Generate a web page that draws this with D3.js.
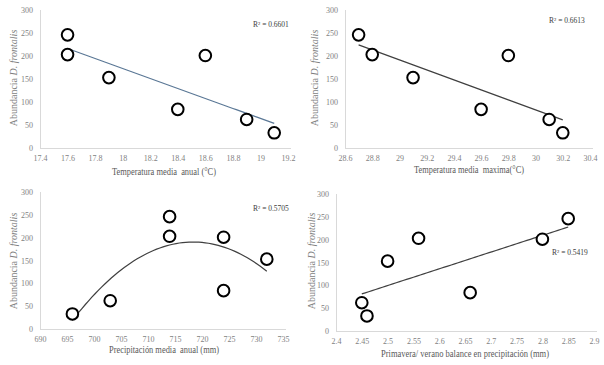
<!DOCTYPE html>
<html><head><meta charset="utf-8">
<script src="https://cdn.jsdelivr.net/npm/d3@7"></script>
<style>
html,body{margin:0;padding:0;background:#fff;}
svg{display:block;}
svg text{font-family:Liberation Serif, Times New Roman, serif; white-space:pre;}
</style>
</head><body>
<svg id="c" width="604" height="365"></svg>
<script>
// Data (per site A..G)
const abundance = [246, 203, 153, 84, 201, 62, 33];
const tempAnual = [17.6, 17.6, 17.9, 18.4, 18.6, 18.9, 19.1];
const tempMax = [28.7, 28.8, 29.1, 29.6, 29.8, 30.1, 30.2];
const precipAnual = [714, 714, 732, 724, 724, 703, 696];
const balancePrecip = [2.85, 2.56, 2.5, 2.66, 2.8, 2.45, 2.46];

const yTicks = [0, 50, 100, 150, 200, 250, 300];
const xTicks1 = [17.4, 17.6, 17.8, 18, 18.2, 18.4, 18.6, 18.8, 19, 19.2];
const xTicks2 = [28.6, 28.8, 29, 29.2, 29.4, 29.6, 29.8, 30, 30.2, 30.4];
const xTicks3 = [690, 695, 700, 705, 710, 715, 720, 725, 730, 735];
const xTicks4 = [2.4, 2.45, 2.5, 2.55, 2.6, 2.65, 2.7, 2.75, 2.8, 2.85, 2.9];

const r2Labels = ["R² = 0.6601", "R² = 0.6613", "R² = 0.5705", "R² = 0.5419"];
const xTitles = ["Temperatura media  anual (°C)", "Temperatura media  maxima(°C)",
  "Precipitación media  anual (mm)", "Primavera/ verano balance en precipitación (mm)"];

const FONT = "Liberation Serif, Times New Roman, serif";
const svg = d3.select("#c");

function fitPoly(xs, ys, deg) {
  const n = deg + 1;
  const x0 = d3.mean(xs);
  const A = Array.from({length: n}, () => new Array(n + 1).fill(0));
  xs.forEach((x, i) => {
    const u = x - x0;
    for (let r = 0; r < n; r++) {
      for (let c = 0; c < n; c++) A[r][c] += Math.pow(u, r + c);
      A[r][n] += Math.pow(u, r) * ys[i];
    }
  });
  for (let i = 0; i < n; i++) {
    let p = i;
    for (let k = i + 1; k < n; k++) if (Math.abs(A[k][i]) > Math.abs(A[p][i])) p = k;
    [A[i], A[p]] = [A[p], A[i]];
    for (let k = i + 1; k < n; k++) {
      const f = A[k][i] / A[i][i];
      for (let j = i; j <= n; j++) A[k][j] -= f * A[i][j];
    }
  }
  const c = new Array(n).fill(0);
  for (let i = n - 1; i >= 0; i--) {
    let s = A[i][n];
    for (let j = i + 1; j < n; j++) s -= A[i][j] * c[j];
    c[i] = s / A[i][i];
  }
  return x => c.reduce((s, ci, k) => s + ci * Math.pow(x - x0, k), 0);
}

function panel(cfg) {
  const g = svg.append("g");
  const x = d3.scaleLinear().domain(cfg.xDomain).range([cfg.left, cfg.right]);
  const y = d3.scaleLinear().domain([0, 300]).range([cfg.bottom, cfg.top]);

  g.append("line").attr("x1", cfg.left + 0.5).attr("x2", cfg.left + 0.5)
    .attr("y1", y(300)).attr("y2", y(0)).attr("stroke", "#d9d9d9").attr("stroke-width", 1);
  g.append("line").attr("x1", cfg.left).attr("x2", cfg.right + 3)
    .attr("y1", y(0) + 0.5).attr("y2", y(0) + 0.5).attr("stroke", "#d9d9d9").attr("stroke-width", 1);

  const yAx = d3.axisLeft(y).tickValues(yTicks).tickSize(0).tickPadding(7).tickFormat(d3.format("d"));
  const ya = g.append("g").attr("transform", `translate(${cfg.left},0)`).call(yAx);
  ya.attr("font-family", FONT);
  ya.select(".domain").remove();
  ya.selectAll("text").attr("fill", "#7f7f7f").style("font-size", "8px").style("font-family", FONT);

  const xAx = d3.axisBottom(x).tickValues(cfg.xTicks).tickSize(0).tickPadding(7)
    .tickFormat(d => String(+d.toFixed(2)));
  const xa = g.append("g").attr("transform", `translate(0,${y(0)})`).call(xAx);
  xa.attr("font-family", FONT);
  xa.select(".domain").remove();
  xa.selectAll("text").attr("fill", "#7f7f7f").style("font-size", "8px").style("font-family", FONT);

  const f = fitPoly(cfg.xs, abundance, cfg.deg);
  const [x0, x1] = d3.extent(cfg.xs);
  const pts = d3.range(0, 61).map(i => x0 + (x1 - x0) * i / 60);
  g.append("path").datum(pts)
    .attr("d", d3.line().x(d => x(d)).y(d => y(f(d))))
    .attr("fill", "none").attr("stroke", cfg.trendColor).attr("stroke-width", 1.2);

  g.selectAll("circle.p").data(cfg.xs.map((v, i) => [v, abundance[i]])).join("circle")
    .attr("cx", d => x(d[0])).attr("cy", d => y(d[1])).attr("r", 5.8)
    .attr("fill", "#fff").attr("stroke", "#000").attr("stroke-width", 2);

  g.append("text").attr("x", cfg.r2[0]).attr("y", cfg.r2[1])
    .attr("fill", "#404040").style("font-size", "7.5px").style("font-family", FONT).text(cfg.r2Text);

  g.append("text").attr("x", cfg.xTitlePos[0]).attr("y", cfg.xTitlePos[1])
    .attr("text-anchor", "middle").attr("fill", "#595959")
    .style("font-size", "10px").style("font-family", FONT)
    .attr("textLength", cfg.xTitleLen).attr("lengthAdjust", "spacingAndGlyphs")
    .text(cfg.xTitle);

  const yt = g.append("text")
    .attr("transform", `translate(${cfg.yTitlePos[0]},${cfg.yTitlePos[1]}) rotate(-90)`)
    .attr("text-anchor", "middle").attr("fill", "#7f7f7f")
    .style("font-size", "10px").style("font-family", FONT);
  yt.append("tspan").text("Abundancia ");
  yt.append("tspan").style("font-style", "italic").text("D. frontalis");
}

panel({xDomain: [17.4, 19.2], left: 40, right: 288, top: 10, bottom: 148, xTicks: xTicks1,
  xs: tempAnual, deg: 1, trendColor: "#5b7896", r2: [253, 27], r2Text: r2Labels[0],
  xTitle: xTitles[0], xTitlePos: [164, 175], xTitleLen: 104, yTitlePos: [17, 78]});
panel({xDomain: [28.6, 30.4], left: 345, right: 590, top: 10, bottom: 148, xTicks: xTicks2,
  xs: tempMax, deg: 1, trendColor: "#404040", r2: [549, 23], r2Text: r2Labels[1],
  xTitle: xTitles[1], xTitlePos: [469, 173], xTitleLen: 110, yTitlePos: [318, 78]});
panel({xDomain: [690, 735], left: 40, right: 283, top: 192, bottom: 329, xTicks: xTicks3,
  xs: precipAnual, deg: 2, trendColor: "#404040", r2: [253, 211], r2Text: r2Labels[2],
  xTitle: xTitles[2], xTitlePos: [164, 353], xTitleLen: 110, yTitlePos: [17, 261]});
panel({xDomain: [2.4, 2.9], left: 336, right: 594, top: 194, bottom: 331, xTicks: xTicks4,
  xs: balancePrecip, deg: 1, trendColor: "#404040", r2: [552, 255], r2Text: r2Labels[3],
  xTitle: xTitles[3], xTitlePos: [465, 357], xTitleLen: 168, yTitlePos: [315, 261]});
</script>
</body></html>
